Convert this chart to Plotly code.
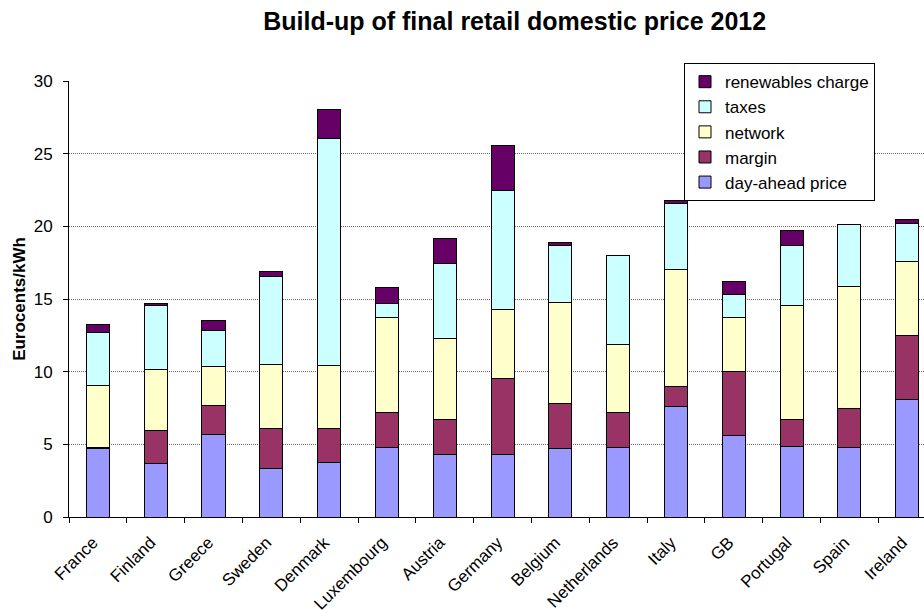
import plotly.graph_objects as go

countries = ["France", "Finland", "Greece", "Sweden", "Denmark", "Luxembourg", "Austria",
             "Germany", "Belgium", "Netherlands", "Italy", "GB", "Portugal", "Spain", "Ireland"]

day_ahead = [4.68, 3.69, 5.69, 3.32, 3.74, 4.77, 4.33, 4.27, 4.70, 4.77, 7.57, 5.60, 4.84, 4.77, 8.10]
margin = [0.12, 2.23, 1.97, 2.80, 2.36, 2.39, 2.41, 5.23, 3.10, 2.45, 1.38, 4.38, 1.88, 2.71, 4.38]
network = [4.23, 4.24, 2.71, 4.36, 4.31, 6.60, 5.53, 4.81, 6.95, 4.66, 8.05, 3.73, 7.82, 8.41, 5.09]
taxes = [3.65, 4.36, 2.45, 6.06, 15.62, 0.94, 5.16, 8.17, 3.92, 6.13, 4.54, 1.61, 4.13, 4.27, 2.64]
renewables = [0.58, 0.18, 0.71, 0.37, 2.02, 1.11, 1.75, 3.07, 0.20, 0.00, 0.22, 0.87, 1.01, 0.00, 0.23]

series = [
    ("day-ahead price", day_ahead, "#9999FF"),
    ("margin", margin, "#993366"),
    ("network", network, "#FFFFCC"),
    ("taxes", taxes, "#CCFFFF"),
    ("renewables charge", renewables, "#660066"),
]

FONT = "Liberation Sans, Arial, sans-serif"

fig = go.Figure()
for name, vals, col in series:
    fig.add_trace(go.Bar(
        x=countries, y=vals, name=name,
        marker=dict(color=col, line=dict(color="black", width=1)),
    ))

fig.update_layout(
    width=924, height=613,
    barmode="stack", bargap=0.6,
    plot_bgcolor="white", paper_bgcolor="white",
    margin=dict(l=69, r=0, t=81, b=96),
    font=dict(family=FONT, size=16, color="black"),
    title=dict(text="<b>Build-up of final retail domestic price 2012</b>",
               font=dict(family=FONT, size=25, color="black"),
               xref="container", x=0.557, xanchor="center",
               yref="container", y=1 - 21 / 613, yanchor="middle"),
    legend=dict(x=(684 - 69) / 855, y=1.041, xanchor="left", yanchor="top",
                traceorder="reversed",
                bgcolor="white", bordercolor="black", borderwidth=1,
                font=dict(family=FONT, size=17, color="black")),
    showlegend=True,
)

fig.update_xaxes(
    type="category", range=[-0.5, 14.29], tickson="boundaries",
    ticks="outside", ticklen=5, tickcolor="black",
    showline=True, linecolor="black", linewidth=1,
    tickangle=-45, showgrid=False, ticklabelstandoff=8, ticklabelshift=-5,
    tickfont=dict(family=FONT, size=17, color="black"),
)
fig.update_yaxes(
    range=[0, 30], dtick=5, tick0=0,
    ticks="outside", ticklen=5, tickcolor="black",
    showline=True, linecolor="black", linewidth=1,
    showgrid=True, gridcolor="#707070", gridwidth=1, griddash="1px,1px",
    zeroline=False, ticklabelstandoff=7,
    tickfont=dict(family=FONT, size=17, color="black"),
    title=dict(text="<b>Eurocents/kWh</b>", font=dict(family=FONT, size=17, color="black"), standoff=3),
)

fig.write_html("out.html")
